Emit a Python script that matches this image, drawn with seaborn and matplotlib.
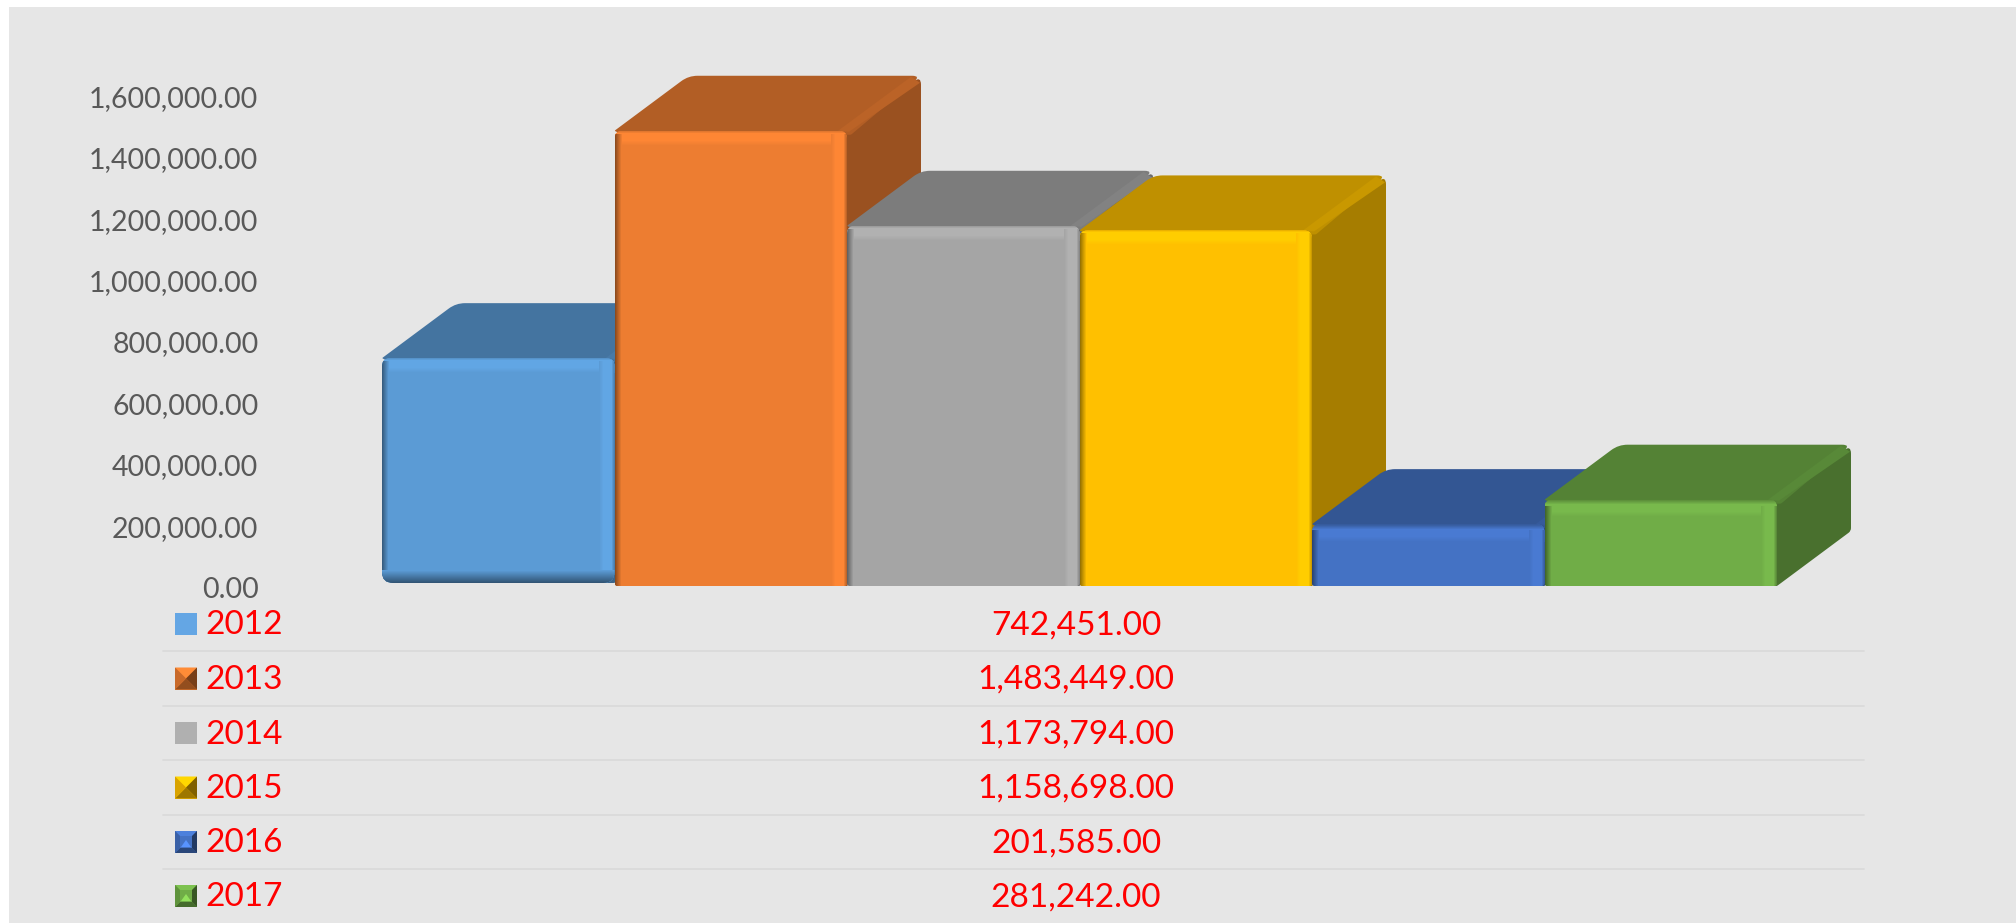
import numpy as np
import pandas as pd
import matplotlib
matplotlib.use("Agg")
import matplotlib.pyplot as plt
import seaborn as sns
from matplotlib.colors import to_rgb
from matplotlib.lines import Line2D
from matplotlib.path import Path
from matplotlib.patches import PathPatch, Rectangle
from matplotlib.transforms import IdentityTransform, ScaledTranslation

years = ["2012", "2013", "2014", "2015", "2016", "2017"]
values = [742451, 1483449, 1173794, 1158698, 201585, 281242]
value_labels = ["742,451.00", "1,483,449.00", "1,173,794.00", "1,158,698.00", "201,585.00", "281,242.00"]
y_ticks = [0, 200000, 400000, 600000, 800000, 1000000, 1200000, 1400000, 1600000]

colors = ["#5B9BD5", "#ED7D31", "#A5A5A5", "#FFC000", "#4472C4", "#70AD47"]
key_colors = ["#64A6E4", "#ED7D31", "#B0B0B0", "#FFC000", "#4472C4", "#70AD47"]

W, H = 2016, 923
BG = "#E6E6E6"
DX, DY = 74, 55  # depth of the fake 3d boxes, px

sns.set_style("white")
plt.rcParams["font.family"] = ["Lato", "DejaVu Sans"]

PX = IdentityTransform()


def shade(c, f):
    return tuple(min(1, v * f) for v in to_rgb(c))


def mix(a, b, t):
    return tuple(x + (y - x) * t for x, y in zip(a, b))


def rounded(pts, radii):
    # closed polygon with rounded corners, px
    verts, codes = [], []
    n = len(pts)
    for i in range(n):
        p = np.array(pts[i], float)
        a = np.array(pts[i - 1], float)
        b = np.array(pts[(i + 1) % n], float)
        r = radii[i]
        p0 = p + (a - p) / np.linalg.norm(a - p) * r
        p1 = p + (b - p) / np.linalg.norm(b - p) * r
        verts += [p0, p, p1]
        codes += [Path.MOVETO if i == 0 else Path.LINETO, Path.CURVE3, Path.CURVE3]
    verts.append(verts[0])
    codes.append(Path.CLOSEPOLY)
    return Path(verts, codes)


def add_poly(ax, path, color, z):
    p = PathPatch(path, facecolor=color, edgecolor="none", transform=PX, zorder=z)
    ax.add_patch(p)
    p.set_clip_on(False)
    return p


def band(ax, x0, y0, x1, y1, c0, c1, clip, z, vertical):
    # stack of 1px strips going from c0 to c1
    n = int(round(abs(y1 - y0) if vertical else abs(x1 - x0)))
    for k in range(n):
        t = k / max(n - 1, 1)
        if vertical:
            s = 1 if y1 > y0 else -1
            r = Rectangle((x0, y0 + s * k - (s < 0)), x1 - x0, 1.2, transform=PX, zorder=z,
                          facecolor=mix(c0, c1, t), edgecolor="none")
        else:
            s = 1 if x1 > x0 else -1
            r = Rectangle((x0 + s * k - (s < 0), y0), 1.2, y1 - y0, transform=PX, zorder=z,
                          facecolor=mix(c0, c1, t), edgecolor="none")
        ax.add_patch(r)
        r.set_clip_path(clip, PX)


df = pd.DataFrame({"year": years, "value": values})

fig = plt.figure(figsize=(W / 100, H / 100), dpi=100, facecolor="white")
fig.add_artist(Rectangle((9 / W, 0), 1, 1 - 7 / H, transform=fig.transFigure, facecolor=BG, edgecolor="none", zorder=-5))

ax = fig.add_axes([382 / W, (H - 586) / H, 1395 / W, 491 / H])
ax.patch.set_visible(False)
sns.barplot(data=df, x="year", y="value", hue="year", palette=colors, saturation=1,
            width=1, legend=False, ax=ax)
ax.set_xlim(-0.5, 5.5)
ax.set_ylim(0, 1600000)
ax.set_yticks(y_ticks)
ax.set_yticklabels(["{:,.2f}".format(v) for v in y_ticks], fontsize=20.5, color="#595959")
ax.set_xticks([])
ax.set_xlabel("")
ax.set_ylabel("")
ax.tick_params(axis="y", length=0, pad=89)
sns.despine(ax=ax, left=True, bottom=True)
for lab in ax.get_yticklabels():
    lab.set_transform(lab.get_transform() + ScaledTranslation(0, -1.5 / 100, fig.dpi_scale_trans))

# boxes, left to right so that each one covers the one before
for i, bar in enumerate(ax.patches):
    c = colors[i]
    z = 10 + i * 5
    left, base = ax.transData.transform((bar.get_x(), 0))
    right, top = ax.transData.transform((bar.get_x() + bar.get_width(), bar.get_height()))
    # first box floats slightly above the floor and has a full bevel
    if i == 0:
        base += 3
    r_low = 11 if i == 0 else 3

    side = [(right - 12, top - 12), (right + DX, top + DY), (right + DX, base + DY), (right, base), (right - 12, base)]
    add_poly(ax, rounded(side, [1, 9, 3, 1, 1]), shade(c, 0.65), z)
    lid = [(left + 8, top - 4), (left, top), (left + DX, top + DY), (right + DX, top + DY), (right + 4, top - 4)]
    add_poly(ax, rounded(lid, [1, 1, 9, 9, 1]), shade(c, 0.75), z + 1)
    edge = [(right - 9, top), (right + DX - 10, top + DY - 1), (right + DX - 1, top + DY - 7), (right + 2, top - 1)]
    add_poly(ax, Path(edge + [edge[0]], closed=True), shade(c, 0.79), z + 1)

    front = rounded([(left, base), (left, top), (right, top), (right, base)], [r_low, 8, 8, r_low])
    bar.set_zorder(z + 2)
    bar.set_edgecolor("none")
    bar.set_clip_path(front, PX)

    base_c, hi, lo = to_rgb(c), shade(c, 1.07), shade(c, 0.6)
    # the flat boxes have a wider bevel, nearly the colour of the lid
    bevel = 6 if i >= 4 else 3
    start = shade(c, 0.78) if i >= 4 else shade(c, 0.95)
    band(ax, left, top, right, top - bevel, start, hi, front, z + 3, True)
    band(ax, left, top - bevel, right, top - bevel - 6, hi, hi, front, z + 3, True)
    band(ax, left, top - bevel - 6, right, top - bevel - 12, hi, base_c, front, z + 3, True)
    band(ax, right - 16, base, right - 11, top - bevel, base_c, hi, front, z + 3, False)
    band(ax, right - 11, base, right - 4, top - bevel, hi, hi, front, z + 3, False)
    band(ax, right - 4, base, right, top - bevel, hi, shade(c, 0.8), front, z + 3, False)
    band(ax, left, base, left + 7, top - bevel, lo, base_c, front, z + 4, False)
    if i == 0:
        band(ax, left, base, right, base + 13, shade(c, 0.55), base_c, front, z + 5, True)

# data table under the plot
row_y = [624, 678.5, 733, 787.5, 842, 896]
for i, y in enumerate(row_y):
    fig.text(205 / W, 1 - (y + 1.5) / H, years[i], color="red", fontsize=24, va="center", ha="left")
    fig.text(1076 / W, 1 - (y + 1.5) / H, value_labels[i], color="red", fontsize=24, va="center", ha="center")
    if i < len(row_y) - 1:
        ly = 1 - (y + 27.3) / H
        fig.add_artist(Line2D([163 / W, 1864 / W], [ly, ly], color="#D9D9D9", lw=1.2, transform=fig.transFigure))

    # legend key
    x0, x1 = 175, 197
    y0, y1 = H - y - 11, H - y + 11
    cx, cy = (x0 + x1) / 2, (y0 + y1) / 2
    c = key_colors[i]
    fig.add_artist(Rectangle((x0, y0), x1 - x0, y1 - y0, transform=PX, facecolor=c, edgecolor="none"))
    if i in (0, 2):
        continue
    faces = [
        ([(x0, y1), (x1, y1), (cx, cy)], 1.12),
        ([(x0, y0), (x1, y0), (cx, cy)], 0.62),
        ([(x0, y0), (x0, y1), (cx, cy)], 0.85),
        ([(x1, y0), (x1, y1), (cx, cy)], 0.5),
    ]
    for pts, f in faces:
        fig.add_artist(PathPatch(Path(pts + [pts[0]], closed=True), transform=PX,
                                 facecolor=shade(c, f), edgecolor="none"))
    if i >= 4:
        fig.add_artist(Rectangle((x0 + 5, y0 + 5), 12, 12, transform=PX, facecolor=shade(c, 1.0), edgecolor="none"))
        tri = [(x0 + 6, y0 + 6), (x1 - 6, y0 + 6), (cx, cy + 2)]
        fig.add_artist(PathPatch(Path(tri + [tri[0]], closed=True), transform=PX,
                                 facecolor=shade(c, 1.3), edgecolor="none"))

fig.savefig("out.png", dpi=100)
